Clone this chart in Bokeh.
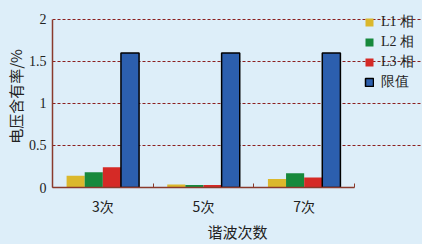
import numpy as np
from bokeh.plotting import figure
from bokeh.models import (Range1d, FixedTicker, Legend, LegendItem, ColumnDataSource,
                          GlobalInlineStyleSheet)
from bokeh.transform import dodge
from bokeh.embed import file_html
from bokeh.resources import INLINE

categories = ["3次", "5次", "7次"]
l1 = [0.14, 0.035, 0.10]
l2 = [0.18, 0.03, 0.17]
l3 = [0.24, 0.03, 0.12]
limit = [1.6, 1.6, 1.6]
series_names = ["L1 相", "L2 相", "L3 相", "限值"]
y_ticks = [0, 0.5, 1, 1.5, 2]

colors = ["#dbb82c", "#17893c", "#d52a26", "#2c5fae"]
bg = "#ddeef9"

# layout (pixels)
W, H = 422, 244
left, top, bottom = 52, 5, 56
plot_w, plot_h = 302, 169          # size of the axes box itself
frame_w, frame_h = W - left, H - top - bottom
n = len(categories)
y_max = y_ticks[-1]

x = np.arange(n) + 0.5
src = ColumnDataSource(dict(x=x, l1=l1, l2=l2, l3=l3, limit=limit))

p = figure(width=W, height=H, output_backend="svg", toolbar_location=None,
           x_range=Range1d(0, n * frame_w / plot_w),
           y_range=Range1d(0, y_max * frame_h / plot_h),
           min_border_left=left, min_border_right=0, min_border_top=top, min_border_bottom=bottom)
p.background_fill_color = bg
p.border_fill_color = bg
p.outline_line_color = None

w = 0.18
offs = [-0.27, -0.09, 0.09, 0.27]
keys = ["l1", "l2", "l3", "limit"]
renderers = []
for k, off, c in zip(keys, offs, colors):
    lc = "black" if k == "limit" else None
    r = p.vbar(x=dodge("x", off), top=k, width=w, source=src, fill_color=c,
               line_color=lc, line_width=1.5)
    renderers.append(r)

# axes
xa = p.xaxis[0]
xa.bounds = (0, n)
xa.ticker = FixedTicker(ticks=list(x), minor_ticks=list(range(n + 1)))
xa.major_label_overrides = {float(v): c for v, c in zip(x, categories)}
xa.major_tick_line_color = None
xa.minor_tick_in = 4
xa.minor_tick_out = 0
xa.minor_tick_line_color = "#8a3a2c"
xa.axis_line_color = "#8a3a2c"
xa.axis_line_width = 1.5
xa.major_label_text_font = "Noto Sans CJK SC"
xa.major_label_text_font_size = "14px"
xa.major_label_text_color = "#222222"
xa.major_label_standoff = 2
xa.axis_label = "谐波次数"
xa.axis_label_text_font = "Noto Sans CJK SC"
xa.axis_label_text_font_size = "15px"
xa.axis_label_text_font_style = "normal"
xa.axis_label_text_color = "#222222"
xa.axis_label_standoff = 2

ya = p.yaxis[0]
ya.bounds = (0, y_max)
ya.ticker = FixedTicker(ticks=y_ticks)
ya.major_label_overrides = {0: "0", 0.5: "0.5", 1: "1", 1.5: "1.5", 2: "2"}
ya.major_tick_line_color = None
ya.minor_tick_line_color = None
ya.axis_line_color = "#8a3a2c"
ya.axis_line_width = 1.5
ya.major_label_text_font = "Liberation Serif"
ya.major_label_text_font_size = "14px"
ya.major_label_text_color = "#222222"
ya.major_label_standoff = 0
ya.axis_label = "电压含有率/%"
ya.axis_label_text_font = "Noto Sans CJK SC"
ya.axis_label_text_font_size = "15px"
ya.axis_label_text_font_style = "normal"
ya.axis_label_text_color = "#222222"
ya.axis_label_standoff = 0

p.xgrid.grid_line_color = None
p.ygrid.ticker = FixedTicker(ticks=y_ticks[1:])
p.ygrid.bounds = (0, n)
p.ygrid.grid_line_color = "#8b1f1f"
p.ygrid.grid_line_dash = "3 2"
p.ygrid.grid_line_width = 1.2

legend = Legend(items=[LegendItem(label=s, renderers=[r]) for s, r in zip(series_names, renderers)],
                location=(312, 96), padding=0, margin=0, spacing=2,
                glyph_width=10, glyph_height=10, label_height=14,
                label_text_font="Liberation Serif", label_text_font_size="14px",
                label_text_color="#222222", label_standoff=7,
                background_fill_alpha=0, border_line_color=None)
p.add_layout(legend, "center")

p.stylesheets = [GlobalInlineStyleSheet(css="body { background-color: %s; }" % bg)]

open("out.html", "w").write(file_html(p, INLINE))
